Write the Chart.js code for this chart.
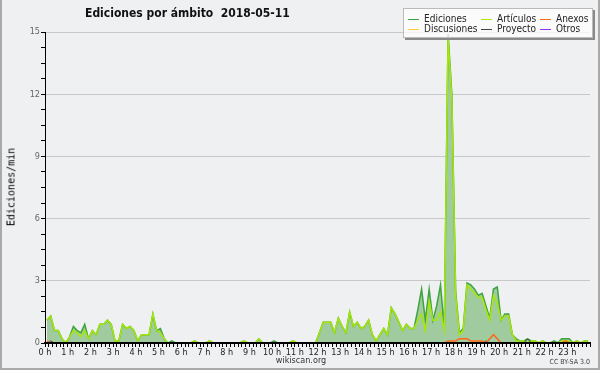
<!DOCTYPE html>
<html>
<head>
<meta charset="utf-8">
<script src="https://cdn.jsdelivr.net/npm/chart.js@4.4.1/dist/chart.umd.min.js"></script>
<style>
html,body{margin:0;padding:0;background:#eff0f2;}
#wrap{position:relative;width:600px;height:370px;overflow:hidden;
  font-family:'DejaVu Sans Condensed','DejaVu Sans',sans-serif;font-stretch:condensed;}
#c{position:absolute;left:0;top:0;}
#frame{position:absolute;left:0;top:0;width:600px;height:370px;box-sizing:border-box;
  border:2px solid #a9a9a9;border-top:none;pointer-events:none;}
#title{position:absolute;left:85px;top:6px;font-size:12px;font-weight:bold;white-space:pre;color:#111;}
#ytitle{position:absolute;left:11px;top:187px;transform:translate(-50%,-50%) rotate(-90deg);
  font:10px 'DejaVu Sans Mono',monospace;white-space:nowrap;color:#000;}
#legend{position:absolute;left:403px;top:8px;width:188px;height:28px;
  background:rgba(255,255,255,.75);border:1px solid #bbb;box-shadow:2px 2px 0 #8a8a8a;}
.item{position:absolute;font-size:10px;line-height:10px;color:#222;white-space:nowrap;}
.item i{position:absolute;left:0;top:5px;width:11px;height:0;border-top:1px solid;}
.item span{position:absolute;left:16px;top:0;}
#site{position:absolute;left:301px;top:355px;transform:translateX(-50%);font-size:9px;color:#333;}
#lic{position:absolute;right:10px;top:358px;font-size:7px;color:#444;}
</style>
</head>
<body>
<div id="wrap">
  <canvas id="c" width="600" height="370"></canvas>
  <div id="title"></div>
  <div id="ytitle"></div>
  <div id="legend"></div>
  <div id="site"></div>
  <div id="lic"></div>
  <div id="frame"></div>
</div>
<script>
// ===== texts =====
const TITLE = "Ediciones por ámbito  2018-05-11";
const Y_TITLE = "Ediciones/min";
const SITE = "wikiscan.org";
const LICENSE = "CC BY-SA 3.0";
const HOUR_LABELS = ["0 h","1 h","2 h","3 h","4 h","5 h","6 h","7 h","8 h","9 h","10 h","11 h",
  "12 h","13 h","14 h","15 h","16 h","17 h","18 h","19 h","20 h","21 h","22 h","23 h"];
const SLOT_MIN = 10; // one value per 10 minutes

// ===== series (edits/min, 6 values per hour) =====
const SERIES_NAMES  = ["Ediciones","Artículos","Anexos","Discusiones","Proyecto","Otros"];
const SERIES_COLORS = ["#3fa33f","#a6e60a","#ff6a1a","#ffcc33","#444444","#9933ff"];

const EDICIONES = [
  1.1,1.3,0.6,0.6,0.2,0,   0.3,0.8,0.6,0.5,0.9,0.2,
  0.6,0.4,0.9,0.9,1.1,0.9, 0.1,0.1,0.9,0.7,0.8,0.6,
  0.1,0.4,0.4,0.4,1.4,0.6, 0.7,0.2,0,0.1,0,0,
  0,0,0,0.1,0,0,           0,0.1,0,0,0,0,
  0,0,0,0,0.1,0,           0,0,0.2,0,0,0,
  0.1,0,0,0,0,0.1,         0,0,0,0,0,0,
  0.5,1.0,1.0,1.0,0.5,1.2, 0.8,0.5,1.5,0.8,1.0,0.7,
  0.8,1.1,0.4,0.1,0.4,0.7, 0.4,1.7,1.4,1.0,0.6,0.9,
  0.7,0.7,1.6,2.6,1.1,2.6, 1.1,1.8,2.8,0.7,14.9,12.0,
  2.5,0.5,0.7,2.9,2.8,2.6, 2.3,2.4,1.8,1.2,2.6,2.7,
  1.1,1.4,1.4,0.4,0.2,0.1, 0.1,0.2,0.1,0.1,0,0.1,
  0,0,0.1,0,0.2,0.2,       0.2,0,0.1,0,0.1,0.1
];
const ARTICULOS = [
  1.1,1.3,0.6,0.6,0.2,0,   0.3,0.6,0.5,0.3,0.6,0.2,
  0.6,0.4,0.9,0.9,1.1,0.9, 0.1,0.1,0.9,0.7,0.8,0.6,
  0.1,0.4,0.4,0.4,1.4,0.6, 0.5,0.2,0,0,0,0,
  0,0,0,0.1,0,0,           0,0.1,0,0,0,0,
  0,0,0,0,0.1,0,           0,0,0.2,0,0,0,
  0,0,0,0,0,0.1,           0,0,0,0,0,0,
  0.5,1.0,1.0,1.0,0.5,1.2, 0.8,0.5,1.5,0.8,1.0,0.7,
  0.8,1.1,0.4,0.1,0.4,0.7, 0.4,1.7,1.4,1.0,0.6,0.9,
  0.7,0.7,1.1,1.4,0.6,2.0, 1.1,1.1,1.5,0.6,14.7,11.8,
  2.3,0.4,0.6,2.8,2.6,2.4, 2.2,2.2,1.6,1.1,2.3,1.9,
  1.1,1.3,1.3,0.4,0.1,0.1, 0.1,0,0.1,0.1,0,0.1,
  0,0,0,0,0.1,0.1,         0.1,0,0.1,0,0.1,0.1
];
const ANEXOS = [
  0.1,0,0,0,0,0,  0,0,0,0,0,0,
  0,0,0,0,0,0,    0,0,0,0,0,0,
  0,0,0,0,0,0,    0,0,0,0,0,0,
  0,0,0,0,0,0,    0,0,0,0,0,0,
  0,0,0,0,0,0,    0,0,0,0,0,0,
  0,0,0,0,0,0,    0,0,0,0,0,0,
  0,0,0,0,0,0,    0,0,0,0,0,0,
  0,0,0,0,0,0,    0,0,0,0,0,0,
  0,0,0,0,0,0,    0,0,0,0,0.1,0.1,
  0.1,0.2,0.2,0.2,0.1,0.1, 0.1,0.1,0,0.2,0.4,0.2,
  0,0,0,0,0,0,    0,0,0,0,0,0,
  0,0,0,0,0,0.1,  0,0,0,0,0,0
];
const DISCUSIONES = [
  0,0,0,0,0,0,  0,0,0,0,0,0,  0,0,0,0,0,0,  0,0,0,0,0,0,
  0,0,0,0,0,0,  0,0,0,0,0,0,  0,0,0,0,0,0,  0,0,0,0,0,0,
  0,0,0,0,0,0,  0,0,0,0,0,0,  0,0,0,0,0,0,  0,0,0,0,0,0,
  0,0,0,0,0,0,  0,0,0,0,0,0,  0,0,0,0,0,0,  0,0,0,0,0,0,
  0,0,0,0,0,0,  0,0,0,0,0,0,  0,0,0,0,0,0,  0,0,0,0,0,0,
  0,0,0,0,0,0,  0,0,0,0,0,0,  0,0,0,0,0,0,  0,0,0,0,0,0
];
const PROYECTO = [
  0,0.1,0,0,0,0,  0,0,0,0,0,0,
  0,0,0,0,0,0,    0,0,0,0,0,0,
  0,0,0,0,0,0,    0,0,0,0,0,0,
  0,0,0,0,0,0,    0,0,0,0,0,0,
  0,0,0,0,0,0,    0,0,0,0,0,0,
  0,0,0,0,0,0,    0,0,0,0,0,0,
  0,0,0,0,0,0,    0,0,0,0,0,0,
  0,0,0,0,0,0,    0,0,0,0,0,0,
  0,0,0,0,0,0,    0,0,0,0,0,0,
  0,0,0,0,0,0,    0,0,0.1,0,0,0,
  0,0,0,0,0,0,    0,0.2,0,0,0,0,
  0,0,0,0,0,0,    0,0,0,0,0,0
];
const OTROS = [
  0,0,0,0,0,0,  0,0,0,0,0,0,  0,0,0,0,0,0,  0,0,0,0,0,0,
  0,0,0,0,0,0,  0,0,0,0,0,0,  0,0,0,0,0,0,  0,0,0,0,0,0,
  0,0,0,0,0,0,  0,0,0,0,0,0,  0,0,0,0,0,0,  0,0,0,0,0,0,
  0,0,0,0,0,0,  0,0,0,0,0,0,  0,0,0,0,0,0,  0,0,0,0,0,0,
  0,0,0,0,0,0,  0,0,0,0,0,0,  0,0,0,0,0,0,  0,0,0,0,0,0,
  0,0,0,0,0,0,  0,0,0,0,0,0,  0,0,0,0,0,0,  0,0,0,0,0,0
];
const SERIES = [EDICIONES, ARTICULOS, ANEXOS, DISCUSIONES, PROYECTO, OTROS];

// ===== html texts & legend =====
document.getElementById("title").textContent = TITLE;
document.getElementById("ytitle").textContent = Y_TITLE;
document.getElementById("site").textContent = SITE;
document.getElementById("lic").textContent = LICENSE;

const wrap = document.getElementById("wrap");
const LEG_COLS = [408, 481, 540], LEG_ROWS = [14, 24];
SERIES_NAMES.forEach((name, k) => {
  const d = document.createElement("div");
  d.className = "item";
  d.style.left = LEG_COLS[k % 3] + "px";
  d.style.top = LEG_ROWS[Math.floor(k / 3)] + "px";
  d.innerHTML = `<i style="border-color:${SERIES_COLORS[k]}"></i><span>${name}</span>`;
  wrap.insertBefore(d, document.getElementById("frame"));
});

// ===== chart =====
const FONT = "'DejaVu Sans Condensed','DejaVu Sans',sans-serif";
const toPts = arr => arr.map((v, i) => ({x: i * SLOT_MIN + SLOT_MIN / 2, y: v}));
const DRAW_ORDER = [5, 4, 0, 3, 1, 3];   // lower = on top

const datasets = SERIES.map((arr, k) => ({
  label: SERIES_NAMES[k],
  data: toPts(arr),
  borderColor: SERIES_COLORS[k],
  borderWidth: k < 3 ? 1.5 : 1,
  pointRadius: 0,
  tension: 0,
  order: DRAW_ORDER[k],
  fill: k === 0 ? "origin" : false,
  backgroundColor: k === 0 ? "#9fcb9f" : SERIES_COLORS[k]
}));

new Chart(document.getElementById("c").getContext("2d"), {
  type: "line",
  data: {datasets},
  options: {
    responsive: false, animation: false, devicePixelRatio: 1,
    layout: {padding: {top: 32, right: 10, bottom: 0, left: 0}},
    plugins: {legend: {display: false}, tooltip: {enabled: false}, title: {display: false}},
    scales: {
      x: {
        type: "linear", min: 0, max: 24 * 60,
        afterFit: s => { s.height = 27; },
        border: {color: "#000", width: 2, z: 1},
        grid: {drawOnChartArea: false, color: "#000", tickLength: 4},
        ticks: {
          stepSize: SLOT_MIN, maxTicksLimit: 200, autoSkip: false, maxRotation: 0, padding: 0,
          color: "#222", font: {family: FONT, size: 9},
          callback: v => (v % 60 === 0 && v / 60 < HOUR_LABELS.length) ? HOUR_LABELS[v / 60] : ""
        }
      },
      y: {
        min: 0, max: 15,
        afterFit: s => { s.width = 45; },
        border: {color: "#000", width: 1},
        grid: {
          tickLength: 4, tickColor: "#000",
          color: c => (Math.abs(c.tick.value / 3 - Math.round(c.tick.value / 3)) < 1e-6 && c.tick.value > 0) ? "#c8c8c8" : "rgba(0,0,0,0)"
        },
        ticks: {
          stepSize: 0.75, padding: 1, color: "#666", font: {family: FONT, size: 9},
          callback: v => Math.abs(v / 3 - Math.round(v / 3)) < 1e-6 ? String(Math.round(v)) : ""
        }
      }
    }
  }
});
</script>
</body>
</html>
